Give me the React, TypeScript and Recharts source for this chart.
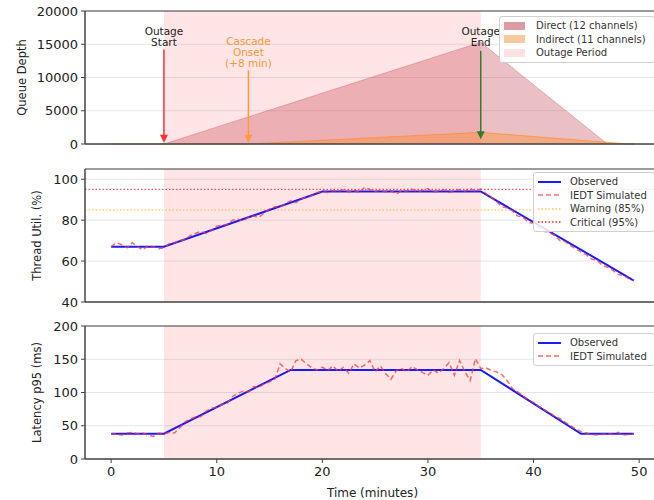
import React from "react";
import {
  ComposedChart, Area, Line, XAxis, YAxis, CartesianGrid, ReferenceArea,
  ReferenceLine, ReferenceDot, Legend,
} from "recharts";

const FONT = '"DejaVu Sans", sans-serif';

// x axis (minutes)
const xTicks = [0, 10, 20, 30, 40, 50];
const xDomain = [-2.475, 51.975];
const outageStart = 5;
const outageEnd = 35;
const cascadeOnset = 13;

// queue depth panel
const queueTimes = [0, 5, 13, 35, 47, 49, 49.5];
const directQueue = [0, 0, null, 15300, 0, 0, 0];
const indirectQueue = [0, 0, 0, 1750, null, 0, 0];
const queueTicks = [0, 5000, 10000, 15000, 20000];

// thread utilisation panel
const threadObsT = [0, 5, 20, 35, 49.5];
const threadObsV = [67, 67, 94, 94, 50.5];
const threadSim = [
  67, 69, 68, 66.5, 69, 67, 65.5, 67.5, 67, 66, 66.5,
  68.5, 69, 70, 70.5, 72.5, 73.5, 74.5, 73.5, 75, 77, 77.5, 78, 80, 80.5, 79.5,
  81.5, 82, 81.5, 83.5, 85.5, 86.5, 86.5, 88, 89.5, 88.5, 90.5, 91, 92, 93.5, 94,
  93.5, 94.5, 94, 95, 93.8, 94.6, 93.5, 96, 95, 94, 94.8, 93.8, 94.4, 92.8, 94.5,
  94.2, 95.2, 93.8, 94.6, 95.4, 93.7, 94.2, 94.8, 93.5, 94.3, 95, 94.1, 95.6, 94, 95.3,
  93, 91, 89, 86.5, 86, 84.5, 82, 81.5, 79, 78.5, 76.5, 74.5, 74, 72.5, 70,
  69.5, 67.5, 66, 64.5, 63, 61, 60.5, 58, 57, 55.5, 53.5, 53, 51.5, 50.5,
];
const threadTicks = [40, 60, 80, 100];
const warningLevel = 85;
const criticalLevel = 95;

// latency panel
const latencyObsT = [0, 5, 17, 35, 44.5, 49.5];
const latencyObsV = [38, 38, 134, 134, 38, 38];
const latencySim = [
  38, 37, 36, 39, 40, 38, 39, 36, 34, 39, 38,
  40, 39, 47, 56, 60, 63, 64, 72, 76, 78, 82, 84, 94, 99, 102, 101, 109, 108, 113,
  116, 120, 143, 136, 131,
  148, 150, 143, 137, 134, 138, 133, 140, 132, 138, 129, 143, 137, 141, 148, 131,
  140, 128, 120, 133, 136, 131, 139, 134, 130, 126, 134, 129, 136, 145, 126, 148,
  131, 118, 151, 136,
  137, 133, 131, 127, 118, 106, 101, 95, 89, 85, 79, 74, 70, 64, 61, 55, 50, 45,
  41, 39, 37, 36, 37, 38, 37, 40, 36, 37, 38,
];
const latencyTicks = [0, 50, 100, 150, 200];

const sampleStep = 0.5;

const queueRows = queueTimes.map((t, i) => ({ t, direct: directQueue[i], indirect: indirectQueue[i] }));
const threadObsRows = threadObsT.map((t, i) => ({ t, v: threadObsV[i] }));
const threadSimRows = threadSim.map((v, i) => ({ t: i * sampleStep, v }));
const latencyObsRows = latencyObsT.map((t, i) => ({ t, v: latencyObsV[i] }));
const latencySimRows = latencySim.map((v, i) => ({ t: i * sampleStep, v }));

const W = 661;
const tickStyle = { fontSize: 13, fill: "#222", fontFamily: FONT };

const yLabel = (text: string, x: number) => (props: any) => {
  const vb = props.viewBox || {};
  const cy = vb.y + vb.height / 2;
  return (
    <text x={x} y={cy} transform={`rotate(-90 ${x} ${cy})`} textAnchor="middle"
      dominantBaseline="central" fontSize={11.5} fill="#222" fontFamily={FONT}>
      {text}
    </text>
  );
};

type LegendItem = { label: string; kind: "patch" | "line"; color: string; dash?: string; sw?: number; opacity?: number };

function LegendBox({ items, width }: { items: LegendItem[]; width: number }) {
  return (
    <div style={{
      width, background: "rgba(255,255,255,0.85)", border: "1px solid #d0d0d0", borderRadius: 3,
      padding: "2px 0 2px 3px", fontFamily: FONT, fontSize: 10, color: "#333", boxSizing: "border-box",
    }}>
      {items.map((it) => (
        <div key={it.label} style={{ display: "flex", alignItems: "center", height: 13.5 }}>
          <svg width={26} height={10} style={{ marginRight: 7 }}>
            {it.kind === "patch" ? (
              <rect x={1} y={1} width={21} height={8} fill={it.color} fillOpacity={it.opacity ?? 1} />
            ) : (
              <line x1={1} y1={5} x2={24} y2={5} stroke={it.color} strokeWidth={it.sw ?? 2}
                strokeDasharray={it.dash} strokeOpacity={it.opacity ?? 1} />
            )}
          </svg>
          <span>{it.label}</span>
        </div>
      ))}
    </div>
  );
}

const arrowHead = (color: string) => (props: any) => {
  const { cx, cy } = props;
  return <path d={`M${cx - 4},${cy - 8} L${cx + 4},${cy - 8} L${cx},${cy} Z`} fill={color} />;
};

const annotation = (lines: string[], color: string) => (props: any) => {
  const { cx, cy } = props;
  return (
    <text x={cx} y={cy} textAnchor="middle" fontSize={10.5} fill={color} fontFamily={FONT}>
      {lines.map((l, i) => (
        <tspan key={i} x={cx} y={cy + i * 11} dominantBaseline="central">{l}</tspan>
      ))}
    </text>
  );
};

function QueuePanel() {
  return (
    <ComposedChart width={W} height={160} data={queueRows} margin={{ top: 11, right: 1, bottom: 0, left: 0 }}>
      <CartesianGrid vertical={false} stroke="#e6e6e6" />
      <ReferenceArea x1={outageStart} x2={outageEnd} fill="#ff0000" fillOpacity={0.1} stroke="none" />
      <XAxis dataKey="t" type="number" domain={xDomain} ticks={xTicks} allowDataOverflow tick={false}
        tickSize={4} height={16} stroke="#444" />
      <YAxis type="number" domain={[0, 20000]} ticks={queueTicks} width={85} tick={tickStyle}
        tickSize={4} tickMargin={3} stroke="#444" label={{ content: yLabel("Queue Depth", 22) }} />
      <Area type="linear" dataKey="direct" fill="#c8505e" fillOpacity={0.36} stroke="#c8505e"
        strokeOpacity={0.35} connectNulls isAnimationActive={false} />
      <Area type="linear" dataKey="indirect" fill="#ff8c28" fillOpacity={0.4} stroke="#ff8c28"
        strokeOpacity={0.7} connectNulls isAnimationActive={false} />
      <ReferenceLine segment={[{ x: outageStart, y: 14200 }, { x: outageStart, y: 700 }]} stroke="#ff3030" strokeWidth={1.5} />
      <ReferenceDot x={outageStart} y={200} r={0} shape={arrowHead("#ff3030")} />
      <ReferenceDot x={outageStart} y={17000} r={0} shape={annotation(["Outage", "Start"], "#222")} />
      <ReferenceLine segment={[{ x: cascadeOnset, y: 11100 }, { x: cascadeOnset, y: 700 }]} stroke="#ff9a3c" strokeWidth={1.5} />
      <ReferenceDot x={cascadeOnset} y={200} r={0} shape={arrowHead("#ff9a3c")} />
      <ReferenceDot x={cascadeOnset} y={15500} r={0} shape={annotation(["Cascade", "Onset", "(+8 min)"], "#f39a3a")} />
      <ReferenceLine segment={[{ x: outageEnd, y: 14000 }, { x: outageEnd, y: 1200 }]} stroke="#2e7d2e" strokeWidth={1.5} />
      <ReferenceDot x={outageEnd} y={700} r={0} shape={arrowHead("#2e7d2e")} />
      <ReferenceDot x={outageEnd} y={17000} r={0} shape={annotation(["Outage", "End"], "#222")} />
      <ReferenceArea x1={xDomain[0]} x2={xDomain[1]} y1={0} y2={20000} fill="none" stroke="#444" ifOverflow="visible" />
      <Legend layout="vertical" align="center" verticalAlign="middle"
        wrapperStyle={{ top: 16, left: 499, width: 156 }}
        content={() => (
          <LegendBox width={156} items={[
            { label: "Direct (12 channels)", kind: "patch", color: "#dc9aa1" },
            { label: "Indirect (11 channels)", kind: "patch", color: "#f7c99e" },
            { label: "Outage Period", kind: "patch", color: "#fde0e0" },
          ]} />
        )} />
    </ComposedChart>
  );
}

function ThreadPanel() {
  return (
    <ComposedChart width={W} height={158} margin={{ top: 9, right: 1, bottom: 0, left: 0 }}>
      <CartesianGrid vertical={false} stroke="#e6e6e6" />
      <ReferenceArea x1={outageStart} x2={outageEnd} fill="#ff0000" fillOpacity={0.1} stroke="none" />
      <XAxis dataKey="t" type="number" domain={xDomain} ticks={xTicks} allowDataOverflow tick={false}
        tickSize={4} height={16} stroke="#444" />
      <YAxis type="number" domain={[40, 105]} ticks={threadTicks} width={85} tick={tickStyle}
        tickSize={4} tickMargin={3} stroke="#444" allowDataOverflow
        label={{ content: yLabel("Thread Util. (%)", 37) }} />
      <ReferenceLine y={warningLevel} stroke="#ffa500" strokeDasharray="1.5 2" strokeOpacity={0.8} />
      <ReferenceLine y={criticalLevel} stroke="#ff2a2a" strokeWidth={1.3} strokeDasharray="1.5 2" strokeOpacity={0.8} />
      <Line data={threadObsRows} dataKey="v" type="linear" stroke="#1a1aff" strokeWidth={2}
        dot={false} isAnimationActive={false} />
      <Line data={threadSimRows} dataKey="v" type="linear" stroke="#ff3a3a" strokeWidth={1.5}
        strokeDasharray="5 3" strokeOpacity={0.75} dot={false} isAnimationActive={false} />
      <ReferenceArea x1={xDomain[0]} x2={xDomain[1]} y1={40} y2={105} fill="none" stroke="#444" ifOverflow="visible" />
      <Legend layout="vertical" align="center" verticalAlign="middle"
        wrapperStyle={{ top: 12, left: 533, width: 122 }}
        content={() => (
          <LegendBox width={122} items={[
            { label: "Observed", kind: "line", color: "#1a1aff", sw: 2 },
            { label: "IEDT Simulated", kind: "line", color: "#ff3a3a", dash: "5 3", sw: 1.5, opacity: 0.75 },
            { label: "Warning (85%)", kind: "line", color: "#ffa500", dash: "1.5 2", sw: 1 },
            { label: "Critical (95%)", kind: "line", color: "#ff2a2a", dash: "1.5 2", sw: 1.3 },
          ]} />
        )} />
    </ComposedChart>
  );
}

function LatencyPanel() {
  return (
    <ComposedChart width={W} height={182} margin={{ top: 8, right: 1, bottom: 0, left: 0 }}>
      <CartesianGrid vertical={false} stroke="#e6e6e6" />
      <ReferenceArea x1={outageStart} x2={outageEnd} fill="#ff0000" fillOpacity={0.1} stroke="none" />
      <XAxis dataKey="t" type="number" domain={xDomain} ticks={xTicks} allowDataOverflow tick={tickStyle}
        tickSize={4} tickMargin={4} height={41} stroke="#444"
        label={{ value: "Time (minutes)", position: "insideBottom", offset: 3, fontSize: 12, fill: "#222", fontFamily: FONT }} />
      <YAxis type="number" domain={[0, 200]} ticks={latencyTicks} width={85} tick={tickStyle}
        tickSize={4} tickMargin={3} stroke="#444" label={{ content: yLabel("Latency p95 (ms)", 37) }} />
      <Line data={latencyObsRows} dataKey="v" type="linear" stroke="#1a1aff" strokeWidth={2}
        dot={false} isAnimationActive={false} />
      <Line data={latencySimRows} dataKey="v" type="linear" stroke="#ff3a3a" strokeWidth={1.5}
        strokeDasharray="5 3" strokeOpacity={0.75} dot={false} isAnimationActive={false} />
      <ReferenceArea x1={xDomain[0]} x2={xDomain[1]} y1={0} y2={200} fill="none" stroke="#444" ifOverflow="visible" />
      <Legend layout="vertical" align="center" verticalAlign="middle"
        wrapperStyle={{ top: 15, left: 533, width: 122 }}
        content={() => (
          <LegendBox width={122} items={[
            { label: "Observed", kind: "line", color: "#1a1aff", sw: 2 },
            { label: "IEDT Simulated", kind: "line", color: "#ff3a3a", dash: "5 3", sw: 1.5, opacity: 0.75 },
          ]} />
        )} />
    </ComposedChart>
  );
}

export default function App() {
  return (
    <div style={{ position: "absolute", left: 0, top: 0, width: 654, height: 500, overflow: "hidden", background: "#fff", fontFamily: FONT }}>
      <div style={{ position: "absolute", left: 0, top: 0 }}><QueuePanel /></div>
      <div style={{ position: "absolute", left: 0, top: 160 }}><ThreadPanel /></div>
      <div style={{ position: "absolute", left: 0, top: 318 }}><LatencyPanel /></div>
    </div>
  );
}
